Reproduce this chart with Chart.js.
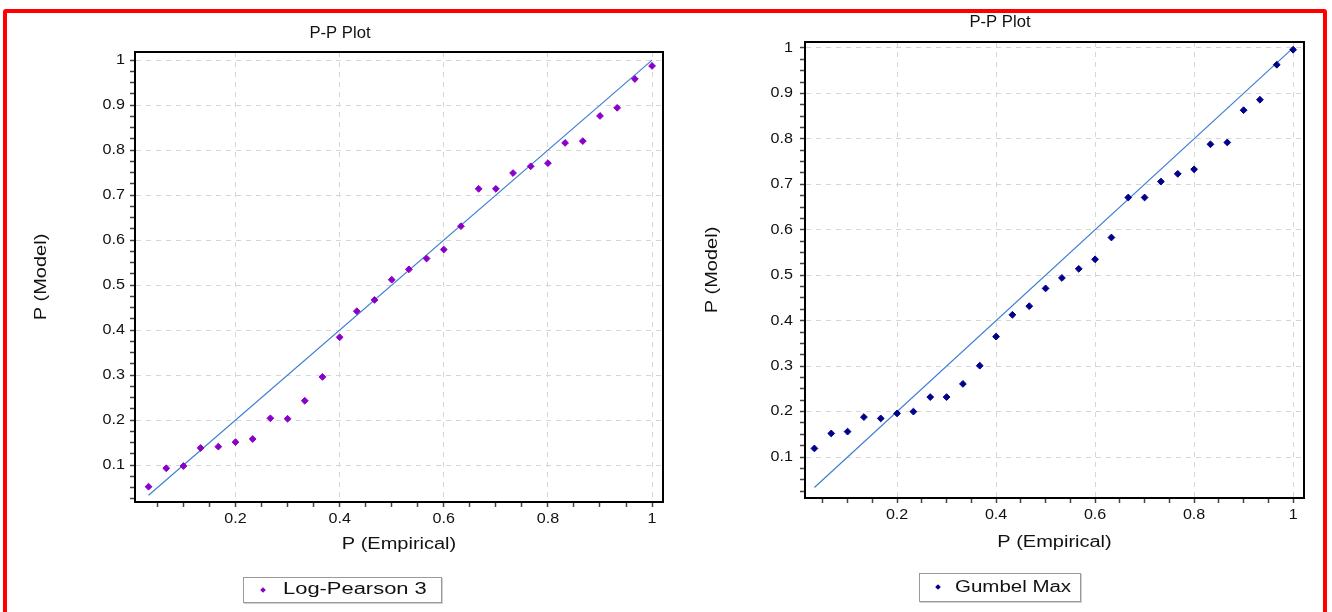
<!DOCTYPE html>
<html>
<head>
<meta charset="utf-8">
<script src="https://cdn.jsdelivr.net/npm/chart.js@4/dist/chart.umd.min.js"></script>
<style>
  body { margin: 0; background: #fff; font-family: "Liberation Sans", Arial, sans-serif; }
  #wrap { position: relative; width: 1332px; height: 612px; overflow: hidden; }
  canvas { position: absolute; top: 0; }
  #leftChart { left: 0; }
  #rightChart { left: 668px; }
  .frame { position: absolute; left: 3px; top: 9px; width: 1316px; height: 700px; border: 4px solid #f00; border-radius: 3px; pointer-events: none; }
  .legend { position: absolute; border: 1px solid #9a9a9a; box-shadow: 1px 1px 0 #d0d0d0; background: #fff; font-size: 16px; color: #111; }
  .legend .mark { position: absolute; width: 4px; height: 4px; transform: rotate(45deg); }
  .legend .txt { position: absolute; white-space: nowrap; transform-origin: 0 50%; }
</style>
</head>
<body>
<div id="wrap">
  <canvas id="leftChart" width="680" height="612"></canvas>
  <canvas id="rightChart" width="664" height="612"></canvas>
  <div class="legend" style="left:243px; top:577px; width:197px; height:24px;">
    <span class="mark" style="left:17px; top:10px; background:#8a00c8;"></span>
    <span class="txt" style="left:39px; top:2px; transform: scaleX(1.37);">Log-Pearson 3</span>
  </div>
  <div class="legend" style="left:919px; top:573px; width:160px; height:27px;">
    <span class="mark" style="left:16px; top:11px; background:#00008b;"></span>
    <span class="txt" style="left:35px; top:4px; transform: scaleX(1.28);">Gumbel Max</span>
  </div>
  <div class="frame"></div>
</div>
<script>
// Data
const pEmpirical = [0.033, 0.067, 0.1, 0.133, 0.167, 0.2, 0.233, 0.267, 0.3, 0.333,
  0.367, 0.4, 0.433, 0.467, 0.5, 0.533, 0.567, 0.6, 0.633, 0.667,
  0.7, 0.733, 0.767, 0.8, 0.833, 0.867, 0.9, 0.933, 0.967, 1.0];
const logPearsonModel = [0.052, 0.093, 0.098, 0.138, 0.141, 0.151, 0.158, 0.204, 0.203, 0.243,
  0.296, 0.384, 0.442, 0.467, 0.512, 0.535, 0.559, 0.579, 0.631, 0.714,
  0.714, 0.749, 0.764, 0.771, 0.816, 0.82, 0.876, 0.894, 0.958, 0.987];
const gumbelModel = [0.119, 0.152, 0.156, 0.188, 0.185, 0.196, 0.2, 0.232, 0.232, 0.261,
  0.301, 0.365, 0.413, 0.432, 0.471, 0.494, 0.514, 0.535, 0.583, 0.671,
  0.671, 0.706, 0.723, 0.733, 0.788, 0.792, 0.863, 0.886, 0.963, 0.996];
// Diagonal reference line (model = empirical)
const diagX = [0.033, 1.0];
const diagY = [0.033, 1.0];

// Tick labels
const xTickValues = [0.2, 0.4, 0.6, 0.8, 1];
const xTickLabels = ['0.2', '0.4', '0.6', '0.8', '1'];
const yTickValues = [0.1, 0.2, 0.3, 0.4, 0.5, 0.6, 0.7, 0.8, 0.9, 1];
const yTickLabels = ['0.1', '0.2', '0.3', '0.4', '0.5', '0.6', '0.7', '0.8', '0.9', '1'];

const FONT = '"Liberation Sans", Arial, sans-serif';
// The source picture has wide, stretched lettering: horizontal stretch per font size
const TEXT_STRETCH = { '14': 1.15, '16': 1.25, '17': 0.98 };

// Helpers for major / minor ticks
findIndex = (list, v) => list.findIndex(t => Math.abs(t - v) < 1e-6);

minorTicks = (min, max, step) => {
    let out = [];
    for (let k = Math.ceil(min / step - 1e-9); k * step <= max + 1e-9; k++) {
        out.push({ value: +(k * step).toFixed(4) });
    }
    return out;
}

// Stretches canvas text sideways round its anchor point
const stretchPlugin = {
    id: 'stretchText',
    beforeDraw: (chart) => {
        let ctx = chart.ctx;
        if (ctx._stretched) return;
        let orig = ctx.fillText;
        ctx.fillText = function (t, x, y, mw) {
            let m = /(\d+)px/.exec(this.font);
            let s = m ? (TEXT_STRETCH[m[1]] || 1) : 1;
            if (s === 1) return orig.call(this, t, x, y);
            this.save();
            this.translate(x, y);
            this.scale(s, 1);
            orig.call(this, t, 0, 0);
            this.restore();
        };
        ctx._stretched = true;
    }
}

// Draws the black box round the plot area
const framePlugin = {
    id: 'frame',
    afterDraw: (chart) => {
        let a = chart.chartArea;
        let ctx = chart.ctx;
        ctx.save();
        ctx.strokeStyle = '#000';
        ctx.lineWidth = 2;
        ctx.strokeRect(a.left, a.top, a.right - a.left, a.bottom - a.top);
        ctx.restore();
    }
}

makeAxis = (o) => {
    return {
        type: 'linear',
        min: o.min,
        max: o.max,
        afterBuildTicks: (scale) => { scale.ticks = minorTicks(o.min, o.max, o.step); },
        afterFit: (scale) => {
            if (o.horizontal) scale.height = o.size; else scale.width = o.size;
        },
        ticks: {
            autoSkip: false,
            maxRotation: 0,
            padding: o.padding,
            color: '#111',
            font: { family: FONT, size: 14 },
            callback: (v) => {
                let i = findIndex(o.values, v);
                return i < 0 ? '' : o.labels[i];
            }
        },
        grid: {
            color: (ctx) => (ctx.tick && findIndex(o.values, ctx.tick.value) >= 0) ? '#d6d6d6' : 'rgba(0,0,0,0)',
            tickColor: '#444',
            tickLength: 5,
            tickWidth: 1.5,
            tickBorderDash: [],
            lineWidth: 1
        },
        border: { display: true, color: '#000', width: 2, dash: [5, 5] },
        title: {
            display: true,
            text: o.title,
            color: '#111',
            font: { family: FONT, size: 16 },
            padding: o.titlePadding
        }
    }
}

// Empty right-hand axis that only holds the gap right of the plot box
spacerAxis = (w) => {
    return {
        type: 'linear',
        position: 'right',
        display: true,
        afterFit: (scale) => { scale.width = w; },
        ticks: { display: false },
        grid: { display: false, drawTicks: false },
        border: { display: false }
    }
}

makePlot = (id, o) => {
    let points = pEmpirical.map((x, i) => ({ x: x, y: o.model[i] }));
    let diag = diagX.map((x, i) => ({ x: x, y: diagY[i] }));
    return new Chart(document.getElementById(id), {
        type: 'scatter',
        data: {
            datasets: [{
                label: 'Fit',
                data: diag,
                showLine: true,
                borderColor: '#3f7fd2',
                borderWidth: 1.2,
                pointRadius: 0,
                order: 2
            }, {
                label: o.name,
                data: points,
                pointStyle: 'rectRot',
                pointRadius: 3.4,
                backgroundColor: o.color,
                borderColor: o.color,
                borderWidth: 1,
                order: 1
            }]
        },
        options: {
            responsive: false,
            animation: false,
            layout: { padding: 0 },
            plugins: {
                legend: { display: false },
                tooltip: { enabled: false },
                title: {
                    display: true,
                    text: 'P-P Plot',
                    color: '#111',
                    font: { family: FONT, size: 17, weight: 'normal' },
                    padding: o.titlePad
                }
            },
            scales: {
                x: makeAxis({
                    horizontal: true, min: o.xMin, max: o.xMax, step: 0.05, size: o.xSize, padding: 4,
                    values: xTickValues, labels: xTickLabels, title: 'P (Empirical)',
                    titlePadding: { top: 0, bottom: o.xTitleBottom }
                }),
                y: makeAxis({
                    horizontal: false, min: o.yMin, max: o.yMax, step: 0.025, size: o.ySize, padding: o.yPad,
                    values: yTickValues, labels: yTickLabels, title: 'P (Model)',
                    titlePadding: { top: o.yTitleTop, bottom: 0 }
                }),
                gap: spacerAxis(o.padRight)
            }
        },
        plugins: [stretchPlugin, framePlugin]
    });
}

makePlot('leftChart', {
    name: 'Log-Pearson 3', model: logPearsonModel, color: '#8a00c8',
    xMin: 0.007, xMax: 1.021, yMin: 0.018, yMax: 1.018,
    padRight: 17, titlePad: { top: 22.8, bottom: 8.8 },
    xSize: 110, ySize: 135, yPad: 5, xTitleBottom: 57.4, yTitleTop: 32.4
});

makePlot('rightChart', {
    name: 'Gumbel Max', model: gumbelModel, color: '#00008b',
    xMin: 0.014, xMax: 1.022, yMin: 0.01, yMax: 1.013,
    padRight: 28, titlePad: { top: 11.8, bottom: 9.8 },
    xSize: 114, ySize: 137, yPad: 7, xTitleBottom: 59.4, yTitleTop: 35.4
});
</script>
</body>
</html>
